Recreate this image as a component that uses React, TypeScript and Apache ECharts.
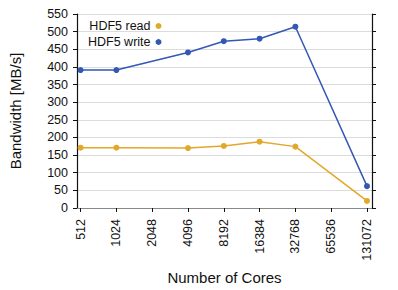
import React, { useEffect, useRef } from "react";
import * as echarts from "echarts";

const tickCores = [512, 1024, 2048, 4096, 8192, 16384, 32768, 65536, 131072];
const cores = [512, 1024, 4096, 8192, 16384, 32768, 131072];
const readValues = [171, 171, 170, 176, 188, 174, 20];
const writeValues = [391, 391, 441, 473, 480, 514, 62];
const seriesNames = ["HDF5 read", "HDF5 write"];
const colors = ["#e2a82a", "#3358b4"];

const FONT = "Liberation Sans, Arial, Helvetica, sans-serif";

export default function App() {
  const ref = useRef<HTMLDivElement>(null);
  useEffect(() => {
    if (!ref.current) return;
    const chart = echarts.init(ref.current, undefined, { renderer: "svg" });
    const tickVals = tickCores.map((c) => Math.log2(c));
    const xMin = 8.9;
    const xMax = 17.14;
    chart.setOption({
      animation: false,
      textStyle: { fontFamily: FONT },
      grid: { left: 73, right: 26, top: 14, bottom: 80 },
      legend: {
        orient: "vertical",
        align: "right",
        left: 88,
        top: 19.5,
        padding: 0,
        itemGap: 3,
        itemWidth: 6,
        itemHeight: 6,
        icon: "circle",
        textStyle: { fontSize: 12.5, color: "#111", fontFamily: FONT },
        data: seriesNames,
      },
      xAxis: [
        {
          type: "value",
          min: xMin,
          max: xMax,
          name: "Number of Cores",
          nameLocation: "middle",
          nameGap: 62,
          nameTextStyle: { fontSize: 15, color: "#111", fontFamily: FONT },
          axisLine: { show: true, lineStyle: { color: "#111", width: 1.2 } },
          axisTick: {
            show: true,
            length: 4,
            customValues: tickVals,
            lineStyle: { color: "#111" },
          },
          axisLabel: {
            customValues: tickVals,
            rotate: 90,
            margin: 11,
            fontSize: 12.5,
            color: "#111",
            fontFamily: FONT,
            formatter: (v: number) => String(Math.round(Math.pow(2, v))),
          },
          splitLine: { show: false },
        },
        {
          type: "value",
          position: "top",
          min: xMin,
          max: xMax,
          axisLine: { show: true, lineStyle: { color: "#888", width: 1.2 } },
          axisTick: { show: false },
          axisLabel: { show: false },
          splitLine: { show: false },
        },
      ],
      yAxis: [
        {
          type: "value",
          min: 0,
          max: 550,
          interval: 50,
          name: "Bandwidth [MB/s]",
          nameLocation: "middle",
          nameGap: 54,
          nameTextStyle: { fontSize: 15, color: "#111", fontFamily: FONT },
          axisLine: { show: true, lineStyle: { color: "#111", width: 1.2 } },
          axisTick: { show: true, length: 4, lineStyle: { color: "#111" } },
          axisLabel: { margin: 9, fontSize: 12.5, color: "#111", fontFamily: FONT },
          splitLine: { show: true, lineStyle: { color: "#dcdcdc", width: 1 } },
        },
        {
          type: "value",
          position: "right",
          min: 0,
          max: 550,
          interval: 50,
          axisLine: { show: true, lineStyle: { color: "#111", width: 1.2 } },
          axisTick: { show: true, length: 4, lineStyle: { color: "#111" } },
          axisLabel: { show: false },
          splitLine: { show: false },
        },
      ],
      series: [
        {
          name: seriesNames[0],
          type: "line",
          color: colors[0],
          symbol: "circle",
          symbolSize: 6,
          lineStyle: { width: 1.5 },
          data: cores.map((c, i) => [Math.log2(c), readValues[i]]),
        },
        {
          name: seriesNames[1],
          type: "line",
          color: colors[1],
          symbol: "circle",
          symbolSize: 6,
          lineStyle: { width: 1.5 },
          data: cores.map((c, i) => [Math.log2(c), writeValues[i]]),
        },
      ],
    });
    return () => chart.dispose();
  }, []);
  return (
    <div
      ref={ref}
      style={{ position: "fixed", left: 0, top: 0, width: 398, height: 290, background: "#fff" }}
    />
  );
}
